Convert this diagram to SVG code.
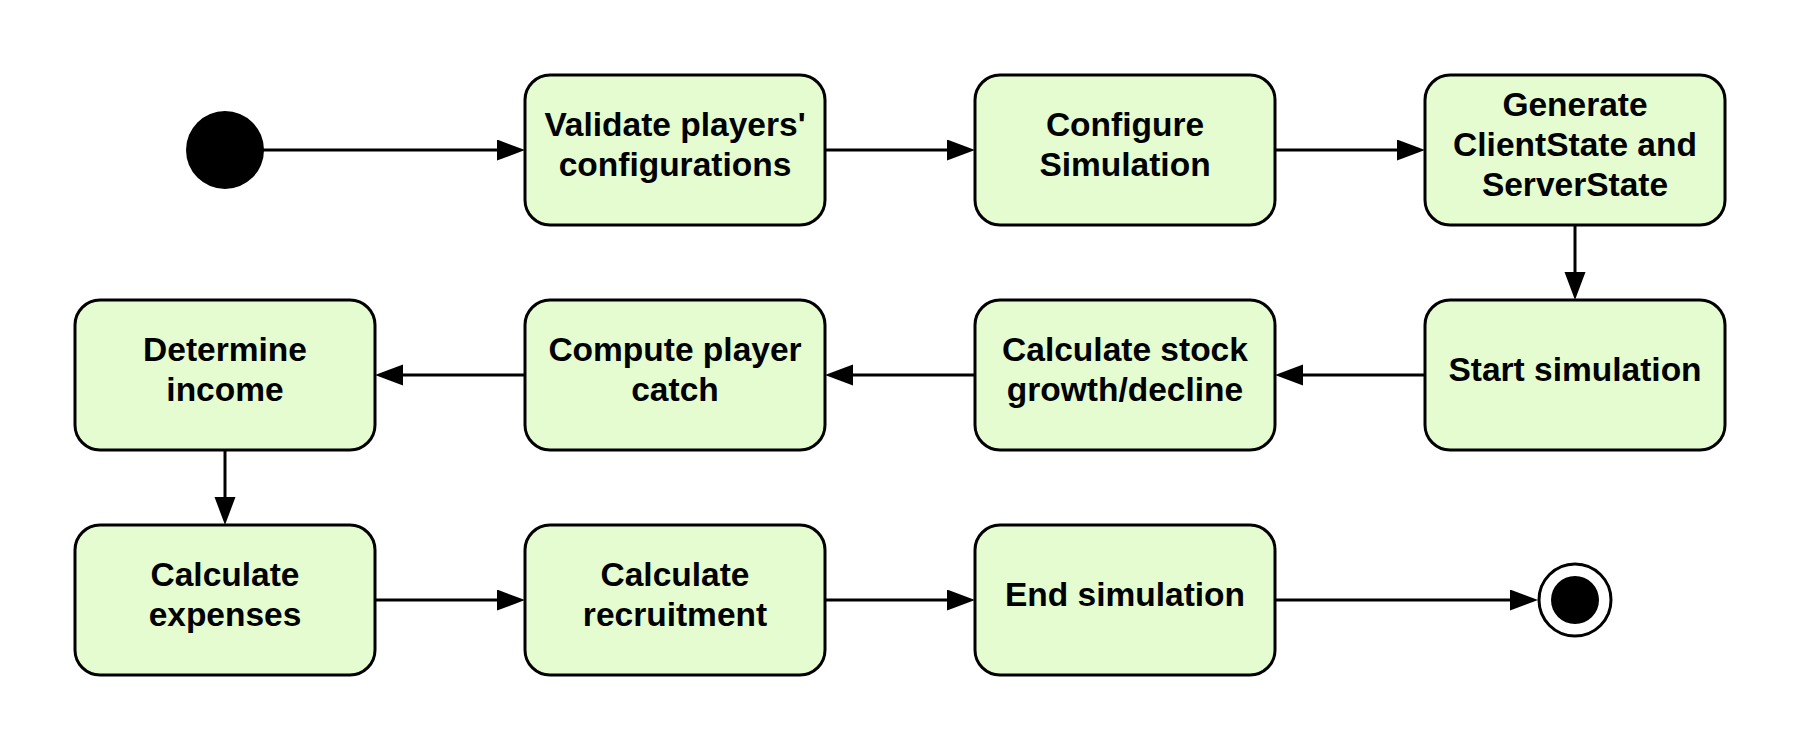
<svg xmlns="http://www.w3.org/2000/svg" width="1800" height="750" viewBox="0 0 1800 750">
<style>
.box{fill:#e4fccf;stroke:#000;stroke-width:3}
.lbl{font-family:"Liberation Sans",Arial,Helvetica,sans-serif;font-weight:bold;font-size:33.5px;fill:#000;text-anchor:middle}
.edge{stroke:#000;stroke-width:3;fill:none}
</style>
<defs>
<marker id="arr" markerUnits="userSpaceOnUse" markerWidth="28" markerHeight="22" refX="18" refY="10.5" orient="auto">
<path d="M0,0 L28,10.5 L0,21 Z" fill="#000"/>
</marker>
</defs>
<rect width="1800" height="750" fill="#fff"/>
<g id="connectors">
<line class="edge" x1="263" y1="150" x2="515" y2="150" marker-end="url(#arr)"/>
<line class="edge" x1="825" y1="150" x2="965" y2="150" marker-end="url(#arr)"/>
<line class="edge" x1="1275" y1="150" x2="1415" y2="150" marker-end="url(#arr)"/>
<line class="edge" x1="1575" y1="225" x2="1575" y2="290" marker-end="url(#arr)"/>
<line class="edge" x1="1425" y1="375" x2="1285" y2="375" marker-end="url(#arr)"/>
<line class="edge" x1="975" y1="375" x2="835" y2="375" marker-end="url(#arr)"/>
<line class="edge" x1="525" y1="375" x2="385" y2="375" marker-end="url(#arr)"/>
<line class="edge" x1="225" y1="450" x2="225" y2="515" marker-end="url(#arr)"/>
<line class="edge" x1="375" y1="600" x2="515" y2="600" marker-end="url(#arr)"/>
<line class="edge" x1="825" y1="600" x2="965" y2="600" marker-end="url(#arr)"/>
<line class="edge" x1="1275" y1="600" x2="1528" y2="600" marker-end="url(#arr)"/>
</g>
<g id="start"><circle cx="225" cy="150" r="39" fill="#000"/></g>
<g id="n1"><rect class="box" x="525" y="75" width="300" height="150" rx="25"/><text class="lbl" x="675" y="136">Validate players'</text><text class="lbl" x="675" y="176">configurations</text></g>
<g id="n2"><rect class="box" x="975" y="75" width="300" height="150" rx="25"/><text class="lbl" x="1125" y="136">Configure</text><text class="lbl" x="1125" y="176">Simulation</text></g>
<g id="n3"><rect class="box" x="1425" y="75" width="300" height="150" rx="25"/><text class="lbl" x="1575" y="116">Generate</text><text class="lbl" x="1575" y="156">ClientState and</text><text class="lbl" x="1575" y="196">ServerState</text></g>
<g id="n4"><rect class="box" x="1425" y="300" width="300" height="150" rx="25"/><text class="lbl" x="1575" y="381">Start simulation</text></g>
<g id="n5"><rect class="box" x="975" y="300" width="300" height="150" rx="25"/><text class="lbl" x="1125" y="361">Calculate stock</text><text class="lbl" x="1125" y="401">growth/decline</text></g>
<g id="n6"><rect class="box" x="525" y="300" width="300" height="150" rx="25"/><text class="lbl" x="675" y="361">Compute player</text><text class="lbl" x="675" y="401">catch</text></g>
<g id="n7"><rect class="box" x="75" y="300" width="300" height="150" rx="25"/><text class="lbl" x="225" y="361">Determine</text><text class="lbl" x="225" y="401">income</text></g>
<g id="n8"><rect class="box" x="75" y="525" width="300" height="150" rx="25"/><text class="lbl" x="225" y="586">Calculate</text><text class="lbl" x="225" y="626">expenses</text></g>
<g id="n9"><rect class="box" x="525" y="525" width="300" height="150" rx="25"/><text class="lbl" x="675" y="586">Calculate</text><text class="lbl" x="675" y="626">recruitment</text></g>
<g id="n10"><rect class="box" x="975" y="525" width="300" height="150" rx="25"/><text class="lbl" x="1125" y="606">End simulation</text></g>
<g id="end"><circle cx="1575" cy="600" r="36" fill="#fff" stroke="#000" stroke-width="3"/><circle cx="1575" cy="600" r="24" fill="#000"/></g>
</svg>
